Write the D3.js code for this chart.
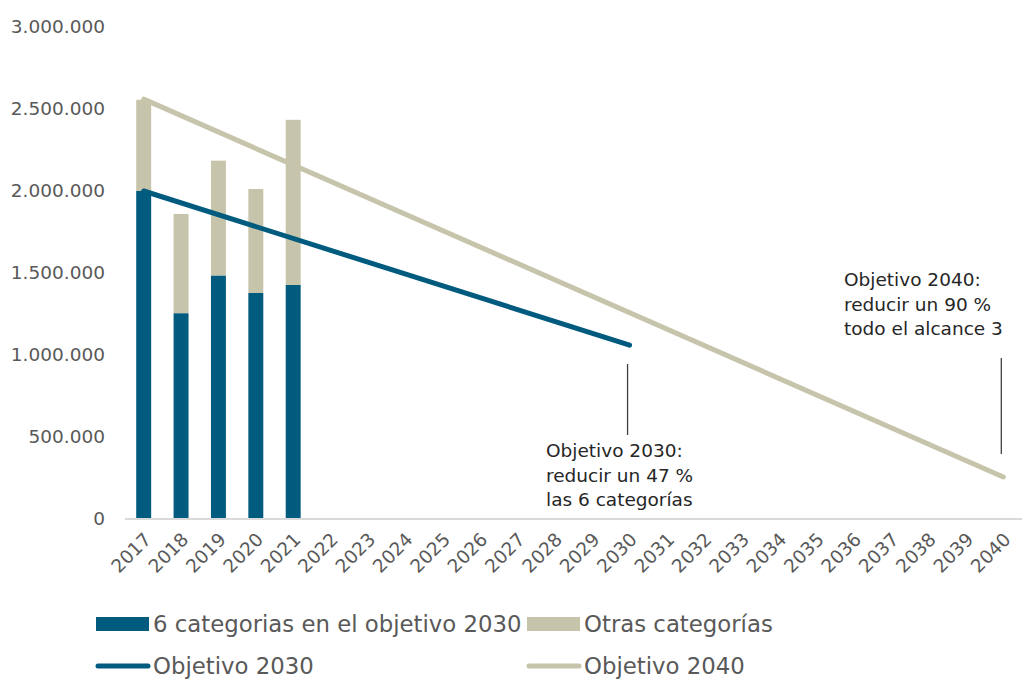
<!DOCTYPE html>
<html>
<head>
<meta charset="utf-8">
<script src="https://cdn.jsdelivr.net/npm/d3@7"></script>
<style>
  body { margin: 0; background: #fff; }
  svg { display: block; font-family: "DejaVu Sans", sans-serif; }
</style>
</head>
<body>
<svg id="chart" width="1032" height="679"></svg>
<script>
const years = d3.range(2017, 2041).map(String);
const barYears = ['2017', '2018', '2019', '2020', '2021'];
const sixCategories = [2000000, 1255000, 1485000, 1378000, 1427000];
const otherCategories = [556000, 605000, 700000, 634000, 1007000];
const target2030 = [{ year: '2017', value: 2000000 }, { year: '2030', value: 1060000 }];
const target2040 = [{ year: '2017', value: 2560000 }, { year: '2040', value: 256000 }];
const yTicks = [0, 500000, 1000000, 1500000, 2000000, 2500000, 3000000];

const blue = '#005b7f';
const tan = '#c6c4aa';
const textGray = '#595959';

const svg = d3.select('#chart');
const x = d3.scaleBand().domain(years).range([125, 1022]);
const y = d3.scaleLinear().domain([0, 3000000]).range([519, 27]);
const cx = d => x(d) + x.bandwidth() / 2;
const barW = x.bandwidth() * 0.4;

const loc = d3.formatLocale({ decimal: ',', thousands: '.', grouping: [3], currency: ['', ''] });
const fmt = loc.format(',');

// y labels, no axis line
svg.append('g').selectAll('text')
  .data(yTicks)
  .join('text')
  .attr('x', 105)
  .attr('y', d => y(d))
  .attr('dy', '0.35em')
  .attr('text-anchor', 'end')
  .attr('font-size', 18.5)
  .attr('fill', textGray)
  .text(fmt);

// stacked bars
const stacked = barYears.map((yr, i) => ({ year: yr, six: sixCategories[i], other: otherCategories[i] }));
const series = d3.stack().keys(['six', 'other'])(stacked);
const colors = { six: blue, other: tan };

svg.append('g').selectAll('g')
  .data(series)
  .join('g')
  .attr('fill', s => colors[s.key])
  .selectAll('rect')
  .data(s => s)
  .join('rect')
  .attr('x', d => cx(d.data.year) - barW / 2)
  .attr('width', barW)
  .attr('y', d => y(d[1]))
  .attr('height', d => y(d[0]) - y(d[1]));

// x axis baseline
svg.append('line')
  .attr('x1', 125).attr('x2', 1022)
  .attr('y1', y(0)).attr('y2', y(0))
  .attr('stroke', '#d9d9d9')
  .attr('stroke-width', 2);

// x labels rotated
svg.append('g').selectAll('text')
  .data(years)
  .join('text')
  .attr('transform', d => `translate(${cx(d) + 4},${y(0) + 17}) rotate(-45)`)
  .attr('dy', '0.35em')
  .attr('text-anchor', 'end')
  .attr('font-size', 18.5)
  .attr('fill', textGray)
  .text(d => d);

// target lines
const line = d3.line().x(d => cx(d.year)).y(d => y(d.value));
svg.append('path')
  .datum(target2040)
  .attr('d', line)
  .attr('fill', 'none')
  .attr('stroke', tan)
  .attr('stroke-width', 5)
  .attr('stroke-linecap', 'round');
svg.append('path')
  .datum(target2030)
  .attr('d', line)
  .attr('fill', 'none')
  .attr('stroke', blue)
  .attr('stroke-width', 5)
  .attr('stroke-linecap', 'round');

// annotations
const notes = [
  { year: '2030', x: 546, y: 457, top: 364, bottom: 435,
    lines: ['Objetivo 2030:', 'reducir un 47 %', 'las 6 categorías'] },
  { year: '2040', x: 844, y: 286, top: 358, bottom: 454,
    lines: ['Objetivo 2040:', 'reducir un 90 %', 'todo el alcance 3'] }
];
notes.forEach(n => {
  svg.append('line')
    .attr('x1', cx(n.year) - 2).attr('x2', cx(n.year) - 2)
    .attr('y1', n.top).attr('y2', n.bottom)
    .attr('stroke', '#404040')
    .attr('stroke-width', 1.3);
  svg.append('text')
    .attr('font-size', 18.5)
    .attr('fill', '#262626')
    .selectAll('tspan')
    .data(n.lines)
    .join('tspan')
    .attr('x', n.x)
    .attr('y', (d, i) => n.y + i * 24.5)
    .text(d => d);
});

// legend
const legend = [
  { label: '6 categorias en el objetivo 2030', color: blue, type: 'rect', x: 96, y: 624 },
  { label: 'Otras categorías', color: tan, type: 'rect', x: 527, y: 624 },
  { label: 'Objetivo 2030', color: blue, type: 'line', x: 96, y: 666 },
  { label: 'Objetivo 2040', color: tan, type: 'line', x: 527, y: 666 }
];
const lg = svg.append('g').selectAll('g')
  .data(legend)
  .join('g')
  .attr('transform', d => `translate(${d.x},${d.y})`);
lg.filter(d => d.type === 'rect').append('rect')
  .attr('x', 0).attr('y', -7).attr('width', 53).attr('height', 14)
  .attr('fill', d => d.color);
lg.filter(d => d.type === 'line').append('line')
  .attr('x1', 2).attr('x2', 52).attr('y1', 0).attr('y2', 0)
  .attr('stroke', d => d.color)
  .attr('stroke-width', 5)
  .attr('stroke-linecap', 'round');
lg.append('text')
  .attr('x', 57)
  .attr('y', 0)
  .attr('dy', '0.36em')
  .attr('font-size', 22.8)
  .attr('fill', textGray)
  .text(d => d.label);
</script>
</body>
</html>
